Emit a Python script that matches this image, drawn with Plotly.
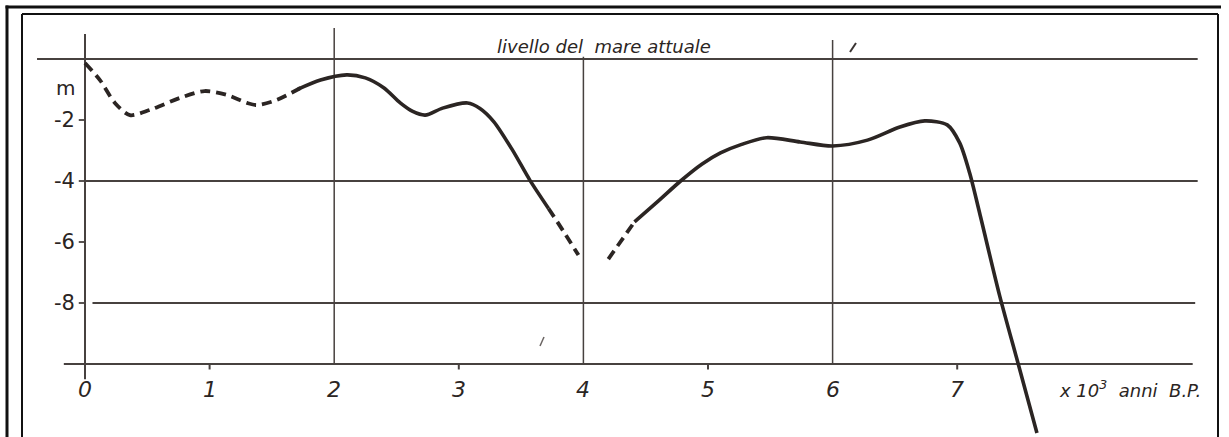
import plotly.graph_objects as go

# ---- data (x in 10^3 years B.P., y in metres) ----
seg1_x = [0.0, 0.12, 0.24, 0.36, 0.52, 0.76, 0.96, 1.14, 1.30, 1.38, 1.54, 1.73]
seg1_y = [-0.13, -0.69, -1.44, -1.84, -1.67, -1.28, -1.05, -1.18, -1.44, -1.51, -1.34, -0.95]

seg2_x = [1.71, 1.89, 2.10, 2.25, 2.40, 2.53, 2.63, 2.73, 2.87, 3.07, 3.17, 3.28, 3.43, 3.57, 3.72]
seg2_y = [-0.99, -0.69, -0.52, -0.62, -0.95, -1.44, -1.72, -1.84, -1.61, -1.44, -1.62, -2.05, -2.98, -3.97, -4.90]

seg3_x = [3.72, 3.84, 3.96]
seg3_y = [-4.90, -5.65, -6.43]

seg4_x = [4.20, 4.41]
seg4_y = [-6.56, -5.34]

seg5_x = [4.41, 4.60, 4.78, 4.95, 5.10, 5.27, 5.47, 5.74, 6.00, 6.28, 6.54, 6.74, 6.92, 7.02, 7.10, 7.18, 7.34, 7.49, 7.64]
seg5_y = [-5.34, -4.66, -4.00, -3.45, -3.08, -2.80, -2.58, -2.72, -2.85, -2.66, -2.23, -2.03, -2.16, -2.75, -3.74, -5.05, -7.75, -10.0, -12.26]

x_ticks = [0, 1, 2, 3, 4, 5, 6, 7]
x_tick_labels = ["0", "1", "2", "3", "4", "5", "6", "7"]
y_ticks = [-2, -4, -6, -8]
y_tick_labels = ["-2", "-4", "-6", "-8"]

title_text = "livello del  mare attuale"
x_unit_text = "x 10<sup>3</sup>  anni  B.P."
y_unit_text = "m"

# ---- figure geometry ----
W, H = 1229, 437
PX0, PXU = 85.0, 124.6   # pixel of x=0, pixels per unit
PY0, PYU = 59.0, 30.5    # pixel of y=0, pixels per metre
x_range = [-PX0 / PXU, (W - PX0) / PXU]
y_range = [-(H - PY0) / PYU, PY0 / PYU]

INK = "#2b2523"
GRID = "#47413f"
FONT = "DejaVu Sans"

fig = go.Figure()

def add_seg(xs, ys, dashed):
    fig.add_trace(go.Scatter(
        x=xs, y=ys, mode="lines",
        line=dict(color=INK, width=3.6 if not dashed else 3.8,
                  shape="spline", smoothing=0.8,
                  dash="10px,6px" if dashed else "solid"),
        hoverinfo="skip", showlegend=False))

shapes = []
def hline(y, x0, x1, w=1.8):
    shapes.append(dict(type="line", xref="x", yref="y", x0=x0, x1=x1, y0=y, y1=y,
                       line=dict(color=GRID, width=w), layer="below"))
def vline(x, y0, y1, w=1.5):
    shapes.append(dict(type="line", xref="x", yref="y", x0=x, x1=x, y0=y0, y1=y1,
                       line=dict(color=GRID, width=w), layer="below"))

# horizontal reference lines
hline(0, -0.385, 8.93)
hline(-4, 0.0, 8.93)
hline(-8, 0.06, 8.91)
hline(-10, -0.17, 8.89, 2.0)
# vertical reference lines
vline(0, 0.82, -10.5, 2.0)
vline(2, 1.02, -10.0)
vline(4, 0.07, -10.0)
vline(6, 0.62, -10.0)
# tick marks
for yt in y_ticks:
    hline(yt, -0.05, 0.0, 1.8)
for xt in [1, 3, 5, 7]:
    vline(xt, -10.0, -10.18, 2.0)

# page borders and scan marks (paper coordinates)
def pline(x0, y0, x1, y1, w, color="#111111"):
    shapes.append(dict(type="line", xref="paper", yref="paper",
                       x0=x0 / W, x1=x1 / W, y0=1 - y0 / H, y1=1 - y1 / H,
                       line=dict(color=color, width=w)))
pline(5.5, 7, 1221, 7, 3)
pline(7, 5.5, 7, H + 2, 3)
pline(22, 14, 1218, 14, 2)
pline(22, 14, 22, H + 2, 2)
pline(1218, 14, 1218, H + 2, 2)
pline(850, 52, 856, 43, 2, "#3a3432")
pline(540, 346, 544, 337, 1.5, "#6a6462")

for xs, ys, d in [(seg1_x, seg1_y, True), (seg2_x, seg2_y, False),
                  (seg3_x, seg3_y, True), (seg4_x, seg4_y, True),
                  (seg5_x, seg5_y, False)]:
    add_seg(xs, ys, d)

annotations = []
lab_y = -(389 - PY0) / PYU
for xt, lab in zip(x_ticks, x_tick_labels):
    annotations.append(dict(x=xt, y=lab_y, text="<i>" + lab + "</i>", showarrow=False,
                            xanchor="center", yanchor="middle",
                            font=dict(family=FONT, size=22, color=INK)))
lab_x = (77 - PX0) / PXU
for yt, lab in zip(y_ticks, y_tick_labels):
    annotations.append(dict(x=lab_x, y=yt, text=lab, showarrow=False,
                            xanchor="right", yanchor="middle",
                            font=dict(family=FONT, size=21, color=INK)))
annotations.append(dict(x=lab_x, y=-(88 - PY0) / PYU, text=y_unit_text, showarrow=False,
                        xanchor="right", yanchor="middle",
                        font=dict(family=FONT, size=20, color=INK)))
annotations.append(dict(x=(604 - PX0) / PXU, y=-(46 - PY0) / PYU,
                        text="<i>" + title_text + "</i>", showarrow=False,
                        xanchor="center", yanchor="middle",
                        font=dict(family=FONT, size=18, color=INK)))
annotations.append(dict(x=(1057 - PX0) / PXU, y=lab_y,
                        text="<i>" + x_unit_text + "</i>", showarrow=False,
                        xanchor="left", yanchor="middle",
                        font=dict(family=FONT, size=18, color=INK)))

fig.update_layout(
    width=W, height=H,
    margin=dict(l=0, r=0, t=0, b=0),
    paper_bgcolor="white", plot_bgcolor="white",
    xaxis=dict(range=x_range, visible=False, fixedrange=True),
    yaxis=dict(range=y_range, visible=False, fixedrange=True),
    shapes=shapes, annotations=annotations, showlegend=False,
)

fig.write_html("out.html", config={"displayModeBar": False},
               post_script="document.body.style.margin='0px';document.body.style.overflow='hidden';")
